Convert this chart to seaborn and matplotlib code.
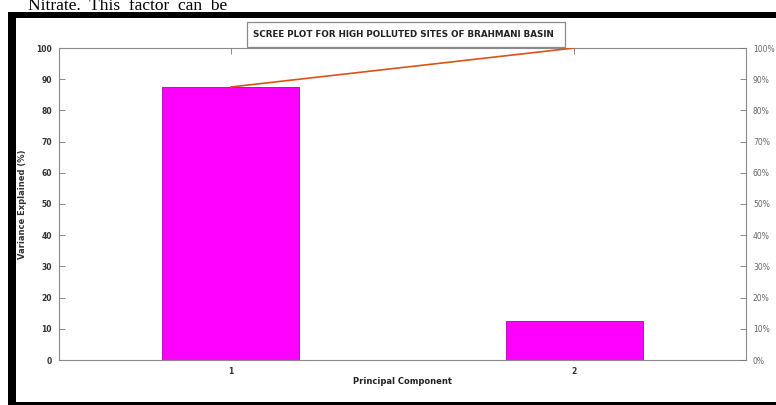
import matplotlib
matplotlib.use("Agg")
import matplotlib.pyplot as plt
import numpy as np
import pandas as pd
import seaborn as sns
from matplotlib.patches import Rectangle

# values
components = ["1", "2"]
variance = [87.5, 12.5]
left_ticks = [0, 10, 20, 30, 40, 50, 60, 70, 80, 90, 100]
right_tick_labels = ["0%", "10%", "20%", "30%", "40%", "50%", "60%", "70%", "80%", "90%", "100%"]
title = "SCREE PLOT FOR HIGH POLLUTED SITES OF BRAHMANI BASIN"
page_text = "Nitrate.  This  factor  can  be"

W, H = 776, 405

sns.set_style("white")
plt.rcParams["font.family"] = ["DejaVu Sans"]

df = pd.DataFrame({"component": components, "variance": variance})
df["cumulative"] = np.cumsum(df["variance"])


def px(x0, y0, x1, y1):
    # pixel box (top-left origin) -> figure fraction rect
    return (x0 / W, 1 - y1 / H, (x1 - x0) / W, (y1 - y0) / H)


fig = plt.figure(figsize=(W / 100, H / 100), dpi=100)
fig.patch.set_facecolor("white")

# frame around the embedded chart
for box in [px(8, 12, 16, 405), px(8, 12, 776, 18), px(8, 402, 776, 405)]:
    fig.patches.append(Rectangle(box[:2], box[2], box[3], transform=fig.transFigure,
                                 facecolor="black", edgecolor="none", zorder=5))

# line of the surrounding document, just above the frame
fig.text(28 / W, 1 - 10.5 / H, page_text, family="Liberation Serif", fontsize=12.5,
         va="baseline", ha="left", color="black")

ax = fig.add_axes(px(59, 48, 746, 360))
sns.barplot(data=df, x="component", y="variance", color="#FF00FF", saturation=1,
            width=0.4, edgecolor="#B000B0", linewidth=0.6, ax=ax)
ax.set_xlim(-0.5, 1.5)
ax.set_ylim(0, 100)
ax.set_yticks(left_ticks)
ax.set_xlabel("Principal Component", fontsize=6, fontweight="bold", color="#222222", labelpad=1)
ax.set_ylabel("Variance Explained (%)", fontsize=6, fontweight="bold", color="#333333", labelpad=7)
ax.tick_params(direction="in", length=4, width=0.6, color="#777777", labelsize=5.5,
               labelcolor="#333333", top=True, pad=5)
for lab in ax.get_yticklabels() + ax.get_xticklabels():
    lab.set_fontweight("bold")
for sp in ax.spines.values():
    sp.set_color("#8a8a8a")
    sp.set_linewidth(0.8)

ax2 = ax.twinx()
sns.lineplot(x=np.arange(len(df)), y=df["cumulative"].values, color="#D95319",
             linewidth=1.2, ax=ax2)
ax2.set_ylim(0, 100)
ax2.set_yticks(left_ticks)
ax2.set_yticklabels(right_tick_labels)
ax2.tick_params(direction="in", length=4, width=0.6, color="#777777", labelsize=5.5,
                labelcolor="#666666", pad=5)
ax2.set_ylabel("")
for sp in ax2.spines.values():
    sp.set_visible(False)

# boxed title
tb = px(247, 22, 565, 47)
fig.patches.append(Rectangle(tb[:2], tb[2], tb[3], transform=fig.transFigure,
                             facecolor="white", edgecolor="#8a8a8a", linewidth=0.9, zorder=6))
fig.text(403 / W, 1 - 34.5 / H, title, fontsize=6.3, fontweight="bold", color="#222222",
         ha="center", va="center", zorder=7)

fig.savefig("out.png", dpi=100)
